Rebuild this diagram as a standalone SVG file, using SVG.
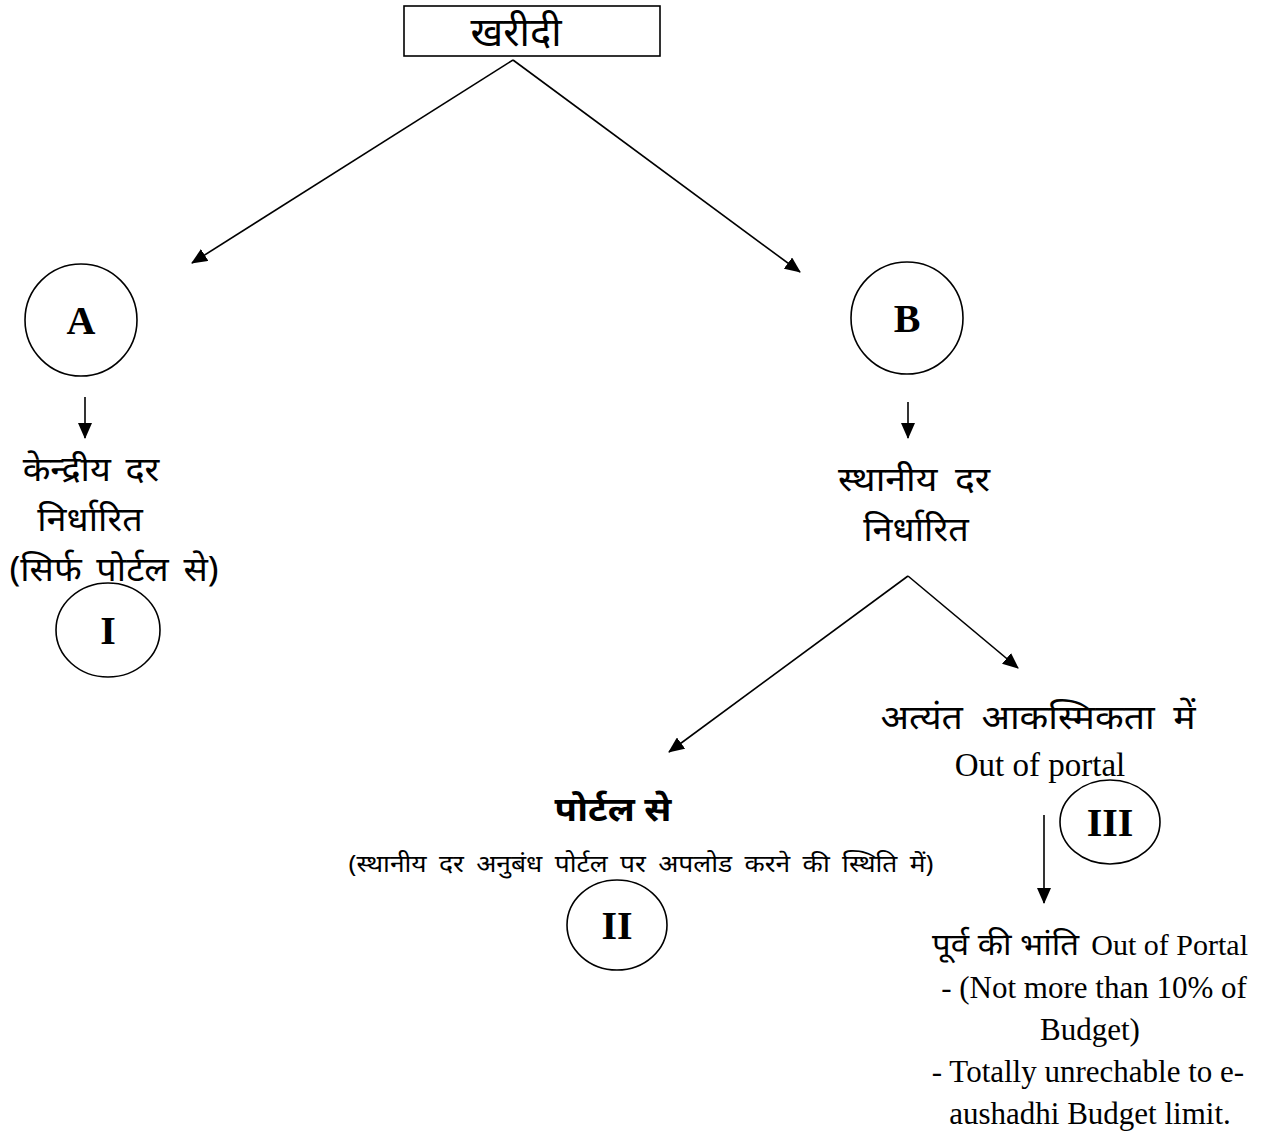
<svg xmlns="http://www.w3.org/2000/svg" width="1279" height="1133" viewBox="0 0 1279 1133">
<style>
.hi{font-family:"Noto Sans","Lohit Devanagari","Noto Sans Devanagari",sans-serif;font-size:34px;fill:#000;text-anchor:middle}
.en{font-family:"Liberation Serif",serif;font-size:31px;fill:#000;text-anchor:middle}
.rn{font-family:"Liberation Serif",serif;font-weight:bold;font-size:40px;fill:#000;text-anchor:middle}
.c{fill:none;stroke:#000;stroke-width:1.6}
.ln{stroke:#000;stroke-width:1.6;fill:none}
</style>
<defs>
<marker id="ahb" markerWidth="16" markerHeight="14" refX="15" refY="7" orient="auto" markerUnits="userSpaceOnUse" viewBox="0 0 16 14">
<path d="M0,0 L16,7 L0,14 Z" fill="#000"/>
</marker>
</defs>
<rect width="1279" height="1133" fill="#fff"/>
<g id="connectors">
<line class="ln" x1="513" y1="60" x2="192" y2="263" marker-end="url(#ahb)"/>
<line class="ln" x1="513" y1="60" x2="800" y2="272" marker-end="url(#ahb)"/>
<line class="ln" x1="85" y1="397" x2="85" y2="438" stroke-width="2.5" marker-end="url(#ahb)"/>
<line class="ln" x1="908" y1="402" x2="908" y2="438" marker-end="url(#ahb)"/>
<line class="ln" x1="908" y1="576" x2="669" y2="752" marker-end="url(#ahb)"/>
<line class="ln" x1="908" y1="576" x2="1018" y2="668" marker-end="url(#ahb)"/>
<line class="ln" x1="1044" y1="815" x2="1044" y2="903" marker-end="url(#ahb)"/>
</g>
<g id="root">
<rect x="404" y="6" width="256" height="50" fill="none" stroke="#000" stroke-width="1.6"/>
<text class="hi" x="516" y="46" style="font-size:40px">खरीदी</text>
</g>
<g id="nodeA">
<circle class="c" cx="81" cy="320" r="56"/>
<text class="rn" x="81" y="334">A</text>
</g>
<g id="nodeB">
<circle class="c" cx="907" cy="318" r="56"/>
<text class="rn" x="907" y="332">B</text>
</g>
<g id="centralText">
<text class="hi" transform="translate(91,481) scale(1.06,1)" word-spacing="5">केन्द्रीय दर</text>
<text class="hi" transform="translate(90,531) scale(1.06,1)">निर्धारित</text>
<text class="hi" transform="translate(114,581) scale(1.06,1)" word-spacing="5">(सिर्फ पोर्टल से)</text>
</g>
<g id="nodeI">
<ellipse class="c" cx="108" cy="630" rx="52" ry="47"/>
<text class="rn" x="108" y="644">I</text>
</g>
<g id="localText">
<text class="hi" transform="translate(914,491) scale(1.1,1)" word-spacing="7">स्थानीय दर</text>
<text class="hi" transform="translate(916,541) scale(1.06,1)">निर्धारित</text>
</g>
<g id="portalText">
<text class="hi" transform="translate(613,821) scale(1.08,1)" font-weight="bold">पोर्टल से</text>
<text class="hi" transform="translate(641,872) scale(1.1,1)" style="font-size:24px" word-spacing="5">(स्थानीय दर अनुबंध पोर्टल पर अपलोड करने की स्थिति में)</text>
</g>
<g id="nodeII">
<ellipse class="c" cx="617" cy="925" rx="50" ry="45"/>
<text class="rn" x="617" y="939">II</text>
</g>
<g id="emergencyText">
<text class="hi" transform="translate(1038,729) scale(1.1,1)" word-spacing="8">अत्यंत आकस्मिकता में</text>
<text class="en" x="1040" y="776" style="font-size:33px">Out of portal</text>
</g>
<g id="nodeIII">
<ellipse class="c" cx="1110" cy="822" rx="50" ry="42"/>
<text class="rn" x="1110" y="836">III</text>
</g>
<g id="noteText">
<text class="hi" transform="translate(932,955) scale(1.1,1)" style="font-size:30px;text-anchor:start">पूर्व की भांति</text>
<text class="en" x="1248" y="955" style="text-anchor:end;font-size:30px">Out of Portal</text>
<text class="en" x="1094" y="998">- (Not more than 10% of</text>
<text class="en" x="1090" y="1040">Budget)</text>
<text class="en" x="1088" y="1082">- Totally unrechable to e-</text>
<text class="en" x="1090" y="1124">aushadhi Budget limit.</text>
</g>
</svg>
